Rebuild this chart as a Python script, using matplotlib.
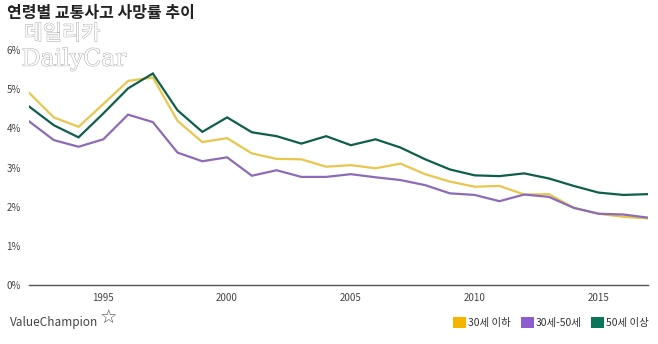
import matplotlib.pyplot as plt
import matplotlib.patheffects as pe
from matplotlib.patches import Patch

# 연령별 교통사고 사망률 (%)
years = list(range(1992, 2018))
under30 = [4.91, 4.28, 4.04, 4.62, 5.21, 5.30, 4.19, 3.65, 3.75, 3.36, 3.22, 3.21, 3.02,
           3.06, 2.98, 3.10, 2.83, 2.64, 2.51, 2.53, 2.31, 2.32, 1.97, 1.82, 1.74, 1.70]
age30_50 = [4.18, 3.70, 3.53, 3.72, 4.35, 4.16, 3.38, 3.16, 3.26, 2.79, 2.93, 2.76, 2.76,
            2.83, 2.75, 2.68, 2.55, 2.34, 2.30, 2.14, 2.31, 2.25, 1.97, 1.82, 1.80, 1.72]
over50 = [4.56, 4.08, 3.77, 4.38, 5.02, 5.40, 4.46, 3.91, 4.28, 3.90, 3.80, 3.61, 3.80,
          3.57, 3.72, 3.51, 3.21, 2.95, 2.80, 2.78, 2.85, 2.72, 2.53, 2.36, 2.30, 2.32]
series_names = ["30세 이하", "30세-50세", "50세 이상"]
line_colors = ["#E9C64E", "#8C6BB8", "#0E5E4A"]
legend_colors = ["#F4B400", "#8E5CCF", "#0B7459"]
y_ticks = [0, 1, 2, 3, 4, 5, 6]
x_ticks = [1995, 2000, 2005, 2010, 2015]

plt.rcParams['font.family'] = ['Noto Sans CJK KR', 'DejaVu Sans']

fig = plt.figure(figsize=(6.58, 3.44), dpi=100)
ax = fig.add_axes([0.0441, 0.1715, 0.9407, 0.6831])

for vals, c in zip([under30, age30_50, over50], line_colors):
    ax.plot(years, vals, color=c, linewidth=1.6, solid_joinstyle='miter')

ax.set_xlim(1992, 2017)
ax.set_ylim(0, 6)
ax.set_yticks(y_ticks)
ax.set_yticklabels([f"{v}%" for v in y_ticks])
ax.set_xticks(x_ticks)
ax.tick_params(axis='both', length=0, labelsize=7, colors='#444444')
ax.tick_params(axis='x', pad=6)
ax.tick_params(axis='y', pad=6)
for side in ['top', 'right', 'left']:
    ax.spines[side].set_visible(False)
ax.spines['bottom'].set_color('#555555')
ax.spines['bottom'].set_linewidth(1.0)

fig.text(0.011, 0.962, "연령별 교통사고 사망률 추이", fontsize=11.5, fontweight='bold',
         color='#222222', va='center', ha='left')

# 워터마크
outline = [pe.Stroke(linewidth=0.7, foreground='#aaaaaa'), pe.Normal()]
fig.text(0.036, 0.902, "데일리카", fontsize=15, color='white', va='center', ha='left',
         path_effects=outline)
fig.text(0.033, 0.828, "DailyCar", fontsize=17, color='white', va='center', ha='left',
         family='DejaVu Serif', path_effects=outline)

fig.text(0.015, 0.062, "ValueChampion", fontsize=8.5, color='#444444', va='center', ha='left')
fig.text(0.151, 0.074, "☆", fontsize=14, color='#555555', va='center', ha='left',
         family=['DejaVu Sans'])

handles = [Patch(facecolor=c, edgecolor='none') for c in legend_colors]
fig.legend(handles, series_names, loc='center right', bbox_to_anchor=(0.986, 0.062),
           ncol=3, frameon=False, fontsize=7.5, handlelength=1.25, handleheight=1.25,
           handletextpad=0.2, columnspacing=0.9, labelcolor='#333333',
           borderpad=0, borderaxespad=0)

fig.savefig("out.png", dpi=100, facecolor='white')
